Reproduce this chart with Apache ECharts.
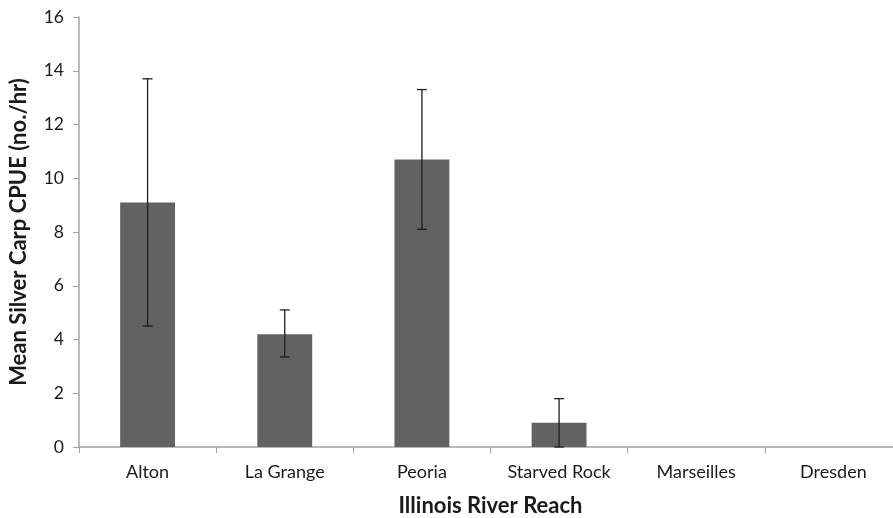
<!DOCTYPE html>
<html>
<head>
<meta charset="utf-8">
<script src="https://cdn.jsdelivr.net/npm/echarts@6/dist/echarts.min.js"></script>
<style>
  html, body { margin: 0; padding: 0; background: #fff; }
  #chart { width: 893px; height: 518px; }
</style>
</head>
<body>
<div id="chart"></div>
<script>
// Illinois River reaches and mean silver carp CPUE with error bar limits
const reaches = ['Alton', 'La Grange', 'Peoria', 'Starved Rock', 'Marseilles', 'Dresden'];
const meanCpue = [9.1, 4.2, 10.7, 0.9, 0, 0];
const errLow = [4.5, 3.35, 8.1, 0.0, null, null];
const errHigh = [13.7, 5.1, 13.3, 1.8, null, null];
const yTicks = [0, 2, 4, 6, 8, 10, 12, 14, 16];

const FONT = 'Lato, "Open Sans", sans-serif';

const errorData = reaches.map((r, i) => [i, errLow[i], errHigh[i]]).filter(d => d[1] !== null);

const chart = echarts.init(document.getElementById('chart'), null, { renderer: 'canvas' });

chart.setOption({
  animation: false,
  backgroundColor: '#ffffff',
  grid: { left: 79, right: -9, top: 17, bottom: 71, containLabel: false, outerBoundsMode: 'none' },
  xAxis: {
    type: 'category',
    data: reaches,
    boundaryGap: true,
    name: 'Illinois River Reach',
    nameLocation: 'middle',
    nameGap: 48,
    nameTextStyle: { fontFamily: FONT, fontSize: 22, fontWeight: 'bold', color: '#1a1a1a' },
    axisLine: { lineStyle: { color: '#a4a4a4', width: 1.5 } },
    axisTick: { show: true, interval: 0, alignWithLabel: false, length: 6, lineStyle: { color: '#a4a4a4' } },
    axisLabel: { interval: 0, hideOverlap: false, fontFamily: FONT, fontSize: 18, color: '#1a1a1a', margin: 16 }
  },
  yAxis: {
    type: 'value',
    min: yTicks[0],
    max: yTicks[yTicks.length - 1],
    interval: 2,
    name: 'Mean Silver Carp CPUE (no./hr)',
    nameLocation: 'middle',
    nameGap: 49,
    nameRotate: 90,
    nameTextStyle: { fontFamily: FONT, fontSize: 22, fontWeight: 'bold', color: '#1a1a1a' },
    axisLine: { show: true, lineStyle: { color: '#a4a4a4', width: 1.5 } },
    axisTick: { show: true, length: 6, lineStyle: { color: '#a4a4a4' } },
    axisLabel: { fontFamily: FONT, fontSize: 17.5, color: '#1a1a1a', margin: 15 },
    splitLine: { show: false }
  },
  series: [
    {
      type: 'bar',
      data: meanCpue,
      barWidth: '40%',
      itemStyle: { color: '#626262' }
    },
    {
      type: 'custom',
      data: errorData,
      z: 10,
      renderItem: function (params, api) {
        const x = api.value(0);
        const lo = api.coord([x, api.value(1)]);
        const hi = api.coord([x, api.value(2)]);
        const half = 5;
        const style = { stroke: '#1e1e1e', lineWidth: 1.3, fill: null };
        return {
          type: 'group',
          children: [
            { type: 'line', shape: { x1: lo[0], y1: lo[1], x2: hi[0], y2: hi[1] }, style: style },
            { type: 'line', shape: { x1: hi[0] - half, y1: hi[1], x2: hi[0] + half, y2: hi[1] }, style: style },
            { type: 'line', shape: { x1: lo[0] - half, y1: lo[1], x2: lo[0] + half, y2: lo[1] }, style: style }
          ]
        };
      }
    }
  ]
});
</script>
</body>
</html>
